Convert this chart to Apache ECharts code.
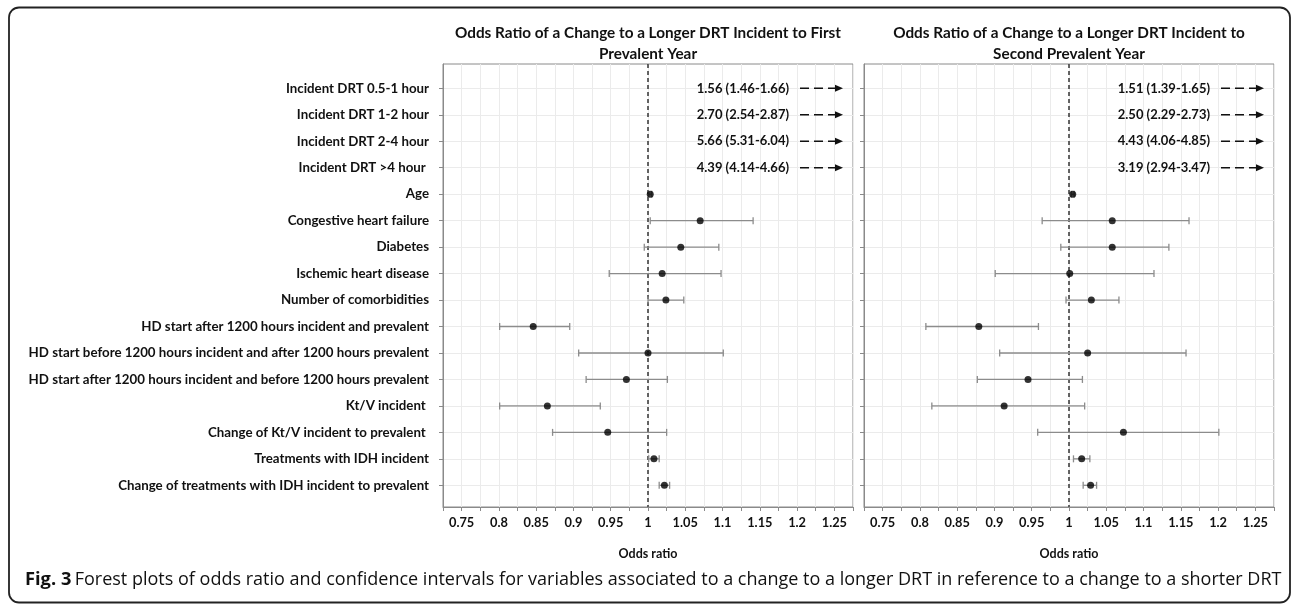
<!DOCTYPE html>
<html><head><meta charset="utf-8">
<script src="https://cdn.jsdelivr.net/npm/echarts@6/dist/echarts.min.js"></script>
<style>html,body{margin:0;padding:0;background:#fff}#c{width:1292px;height:605px}</style>
</head><body><div id="c"></div>
<script>
const categories = [
  'Incident DRT 0.5-1 hour',
  'Incident DRT 1-2 hour',
  'Incident DRT 2-4 hour',
  'Incident DRT >4 hour ',
  'Age',
  'Congestive heart failure',
  'Diabetes',
  'Ischemic heart disease',
  'Number of comorbidities',
  'HD start after 1200 hours incident and prevalent',
  'HD start before 1200 hours incident and after 1200 hours prevalent',
  'HD start after 1200 hours incident and before 1200 hours prevalent',
  'Kt/V incident ',
  'Change of Kt/V incident to prevalent ',
  'Treatments with IDH incident',
  'Change of treatments with IDH incident to prevalent'
];
const panelTitles = [
  'Odds Ratio of a Change to a Longer DRT Incident to First\nPrevalent Year',
  'Odds Ratio of a Change to a Longer DRT Incident to\nSecond Prevalent Year'
];
const xTickLabels = ['0.75','0.8','0.85','0.9','0.95','1','1.05','1.1','1.15','1.2','1.25'];
const xAxisName = 'Odds ratio';
const caption = 'Forest plots of odds ratio and confidence intervals for variables associated to a change to a longer DRT in reference to a change to a shorter DRT';
const captionLead = 'Fig. 3';

// rows 0..3 lie off the plotted scale (shown as text + arrow)
const offOR1 = [1.56, 2.70, 5.66, 4.39];
const offLo1 = [1.46, 2.54, 5.31, 4.14];
const offHi1 = [1.66, 2.87, 6.04, 4.66];
const offOR2 = [1.51, 2.50, 4.43, 3.19];
const offLo2 = [1.39, 2.29, 4.06, 2.94];
const offHi2 = [1.65, 2.73, 4.85, 3.47];

// rows 4..15 (Age ... Change of treatments with IDH)
const or1 = [1.003, 1.070, 1.044, 1.019, 1.024, 0.846, 1.000, 0.971, 0.865, 0.946, 1.008, 1.022];
const lo1 = [1.001, 1.003, 0.995, 0.948, 1.000, 0.801, 0.907, 0.917, 0.801, 0.872, 1.001, 1.015];
const hi1 = [1.005, 1.141, 1.095, 1.098, 1.048, 0.895, 1.101, 1.026, 0.936, 1.025, 1.015, 1.029];
const or2 = [1.005, 1.058, 1.058, 1.001, 1.030, 0.879, 1.025, 0.945, 0.913, 1.073, 1.017, 1.029];
const lo2 = [1.003, 0.964, 0.989, 0.901, 0.996, 0.808, 0.907, 0.877, 0.816, 0.958, 1.006, 1.019];
const hi2 = [1.007, 1.161, 1.134, 1.114, 1.067, 0.959, 1.157, 1.018, 1.021, 1.201, 1.028, 1.037];

const FONT = 'Lato';
const X_MIN = 0.725, X_MAX = 1.275, X_STEP = 0.025;
const Y_MIN = -0.92, Y_MAX = 15.82;
const rowIdx = categories.map((_, i) => i);
const firstOn = 4;

const chart = echarts.init(document.getElementById('c'), null, {renderer: 'canvas'});

const grids = [
  {left: 443, top: 64, width: 410, height: 443},
  {left: 864, top: 64, width: 410, height: 443}
];

function xAxisFor(i) {
  return {
    type: 'value', gridIndex: i, min: X_MIN, max: X_MAX, interval: X_STEP,
    name: xAxisName, nameLocation: 'middle', nameGap: 40,
    nameTextStyle: {fontFamily: FONT, fontWeight: 'bold', fontSize: 12.5, color: '#111'},
    axisLine: {show: true, onZero: false, lineStyle: {color: '#8a8a8a', width: 1}},
    axisTick: {show: true, length: 4, lineStyle: {color: '#8a8a8a'}},
    axisLabel: {
      margin: 9, fontFamily: FONT, fontWeight: 'bold', fontSize: 12.8, color: '#111',
      showMinLabel: true, showMaxLabel: true,
      formatter: v => {
        const m = xTickLabels.find(l => Math.abs(parseFloat(l) - v) < 1e-6);
        return m || '';
      }
    },
    splitLine: {show: true, lineStyle: {color: '#ebebeb', width: 1}}
  };
}
function yAxisFor(i) {
  return {
    type: 'value', gridIndex: i, inverse: true, min: Y_MIN, max: Y_MAX,
    axisLine: {show: true, onZero: false, lineStyle: {color: '#8a8a8a', width: 1}},
    axisTick: {show: true, length: 4, customValues: rowIdx, lineStyle: {color: '#8a8a8a'}},
    axisLabel: {
      show: i === 0, customValues: rowIdx, margin: 14,
      fontFamily: FONT, fontWeight: 'bold', fontSize: 13.3, color: '#111',
      formatter: v => categories[Math.round(v)] || ''
    },
    splitLine: {show: true, lineStyle: {color: '#ebebeb', width: 1}}
  };
}

function errorSeries(i, lo, hi) {
  const data = lo.map((l, k) => [l, hi[k], firstOn + k]);
  return {
    type: 'custom', xAxisIndex: i, yAxisIndex: i, z: 3,
    data: data,
    encode: {x: [0, 1], y: 2},
    renderItem: (params, api) => {
      const a = api.coord([api.value(0), api.value(2)]);
      const b = api.coord([api.value(1), api.value(2)]);
      const h = 3.5;
      const st = {stroke: '#8c8c8c', lineWidth: 1.3};
      return {type: 'group', children: [
        {type: 'line', shape: {x1: a[0], y1: a[1], x2: b[0], y2: b[1]}, style: st},
        {type: 'line', shape: {x1: a[0], y1: a[1] - h, x2: a[0], y2: a[1] + h}, style: st},
        {type: 'line', shape: {x1: b[0], y1: b[1] - h, x2: b[0], y2: b[1] + h}, style: st}
      ]};
    }
  };
}
function pointSeries(i, or) {
  return {
    type: 'scatter', xAxisIndex: i, yAxisIndex: i, z: 4,
    symbol: 'circle', symbolSize: 7,
    itemStyle: {color: '#000'},
    data: or.map((v, k) => [v, firstOn + k]),
    markLine: {
      silent: true, symbol: 'none', z: 2,
      label: {show: false},
      lineStyle: {color: '#333', type: [4, 3], width: 1.5},
      data: [{xAxis: 1}]
    }
  };
}
function arrowSeries(i, or, lo, hi) {
  const data = or.map((v, k) => [k, v, lo[k], hi[k]]);
  return {
    type: 'custom', xAxisIndex: i, yAxisIndex: i, z: 5,
    data: data,
    encode: {y: 0},
    renderItem: (params, api) => {
      const row = api.value(0);
      const y = api.coord([X_MIN, row])[1];
      const cs = params.coordSys;
      const right = cs.x + cs.width;
      const txt = api.value(1).toFixed(2) + ' (' + api.value(2).toFixed(2) + '-' + api.value(3).toFixed(2) + ')';
      const tip = right - 10;
      return {type: 'group', children: [
        {type: 'text', style: {text: txt, x: right - 64, y: y, align: 'right', verticalAlign: 'middle',
          font: 'bold 13px ' + FONT, fill: '#111'}},
        {type: 'line', shape: {x1: right - 53, y1: y, x2: tip - 6, y2: y},
          style: {stroke: '#111', lineWidth: 1.5, lineDash: [9, 5]}},
        {type: 'polygon', shape: {points: [[tip, y], [tip - 8, y - 3.5], [tip - 8, y + 3.5]]},
          style: {fill: '#111'}}
      ]};
    }
  };
}

const option = {
  backgroundColor: '#fff',
  animation: false,
  grid: grids.map(g => Object.assign({show: true, borderColor: '#8a8a8a', borderWidth: 1, backgroundColor: '#fff'}, g)),
  xAxis: [xAxisFor(0), xAxisFor(1)],
  yAxis: [yAxisFor(0), yAxisFor(1)],
  series: [
    errorSeries(0, lo1, hi1), pointSeries(0, or1), arrowSeries(0, offOR1, offLo1, offHi1),
    errorSeries(1, lo2, hi2), pointSeries(1, or2), arrowSeries(1, offOR2, offLo2, offHi2)
  ],
  graphic: [
    {type: 'rect', silent: true, shape: {x: 9, y: 7.5, width: 1281, height: 595, r: 10},
      style: {fill: 'none', stroke: '#222', lineWidth: 1.8}},
    {type: 'text', x: grids[0].left + grids[0].width / 2, y: 23, silent: true,
      style: {text: panelTitles[0], align: 'center', verticalAlign: 'top', font: 'bold 15.3px ' + FONT, lineHeight: 21, fill: '#111'}},
    {type: 'text', x: grids[1].left + grids[1].width / 2, y: 23, silent: true,
      style: {text: panelTitles[1], align: 'center', verticalAlign: 'top', font: 'bold 15.3px ' + FONT, lineHeight: 21, fill: '#111'}},
    {type: 'text', x: 25, y: 580, silent: true,
      style: {
        text: '{b|' + captionLead + '} {n|' + caption + '}',
        verticalAlign: 'middle',
        rich: {
          b: {fontFamily: 'Open Sans', fontWeight: 'bold', fontSize: 18.3, fill: '#111'},
          n: {fontFamily: 'Open Sans', fontSize: 18, fill: '#111'}
        }
      }}
  ]
};
chart.setOption(option);
</script>
</body></html>
